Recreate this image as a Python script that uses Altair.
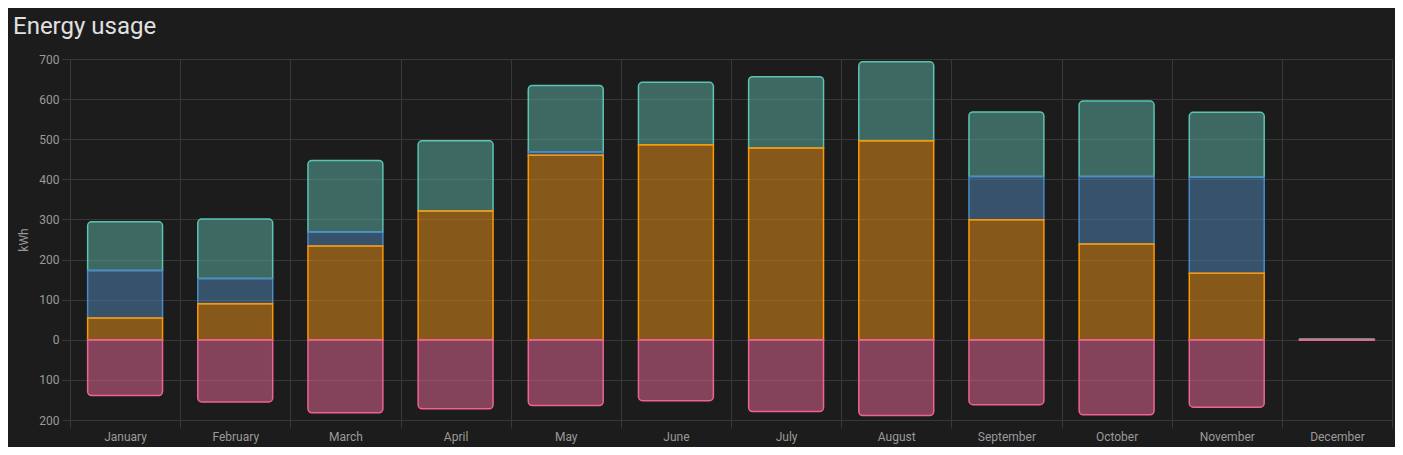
import altair as alt
import pandas as pd

months = ["January", "February", "March", "April", "May", "June", "July",
          "August", "September", "October", "November", "December"]
solar = [54, 90, 234, 321, 460, 486, 478, 496, 299, 239, 166, 0]
grid = [119, 63, 35, 0, 9, 0, 0, 0, 108, 168, 239, 0]
battery = [121, 148, 178, 175, 165, 156, 178, 197, 161, 188, 162, 2]
charge = [-139, -155, -182, -172, -164, -152, -179, -189, -162, -187, -168, -1]

series_names = ["Solar", "Grid", "Battery", "Charge"]
stroke_colors = ["#ff9800", "#4a8cc8", "#5cc4b2", "#f06292"]
fill_colors = ["#f0961a", "#5288ba", "#60b6aa", "#ec6a98"]
y_ticks = [-200, -100, 0, 100, 200, 300, 400, 500, 600, 700]

rows = []
for i, m in enumerate(months):
    base = 0
    for name, vals in (("Solar", solar), ("Grid", grid), ("Battery", battery)):
        v = vals[i]
        if v != 0:
            rows.append(dict(month=m, series=name, y0=base, y1=base + v))
        base += v
    if charge[i] != 0:
        rows.append(dict(month=m, series="Charge", y0=0, y1=charge[i]))
df = pd.DataFrame(rows)

grid_color = "#383838"
label_color = "#9a9a9a"
FONT = "Roboto"

x_enc = alt.X(
    "month:N", sort=months,
    scale=alt.Scale(paddingInner=0, paddingOuter=0),
    axis=alt.Axis(title=None, labelAngle=0, tickBand="extent", grid=True,
                  gridColor=grid_color, tickColor=grid_color, tickSize=8,
                  domain=False, labelColor=label_color, labelFontSize=12,
                  labelFont=FONT, labelPadding=3),
)
y_enc = alt.Y(
    "y1:Q",
    scale=alt.Scale(domain=[-200, 700], nice=False, zero=False),
    axis=alt.Axis(values=y_ticks, labelExpr="abs(datum.value)", title="kWh",
                  titleColor=label_color, titleFontSize=12, titleFont=FONT,
                  titleFontWeight="normal", titlePadding=8,
                  gridColor=grid_color, tickColor=grid_color, tickSize=8,
                  domain=False, labelColor=label_color, labelFontSize=12,
                  labelFont=FONT, labelPadding=3),
)
fill_enc = alt.Fill("series:N", scale=alt.Scale(domain=series_names, range=fill_colors), legend=None)
stroke_enc = alt.Stroke("series:N", scale=alt.Scale(domain=series_names, range=stroke_colors), legend=None)

base = alt.Chart(df).encode(x=x_enc, y=y_enc, y2="y0:Q", fill=fill_enc, stroke=stroke_enc)
bw = alt.RelativeBandSize(0.68)

top = base.transform_filter(alt.datum.series == "Battery").mark_bar(
    width=bw, fillOpacity=0.5, strokeWidth=1.5, cornerRadiusTopLeft=4, cornerRadiusTopRight=4)
mid = base.transform_filter(alt.datum.series == "Grid").mark_bar(
    width=bw, fillOpacity=0.5, strokeWidth=1.5)
low = base.transform_filter(alt.datum.series == "Solar").mark_bar(
    width=bw, fillOpacity=0.5, strokeWidth=1.5)
neg = base.transform_filter(alt.datum.series == "Charge").mark_bar(
    width=bw, fillOpacity=0.5, strokeWidth=1.5, cornerRadiusBottomLeft=4, cornerRadiusBottomRight=4)

chart = alt.layer(top, mid, low, neg).properties(
    width=1322, height=361,
    title=alt.TitleParams("Energy usage", anchor="start", frame="group", dx=-57,
                          offset=14, fontSize=24, font=FONT, fontWeight="normal",
                          color="#e1e1e1"),
    autosize=alt.AutoSizeParams(type="none"),
    padding={"left": 62, "top": 51, "right": 3, "bottom": 27},
).configure(background="#1c1c1c").configure_view(stroke=None)

chart.save("out.html", embed_options={"renderer": "svg", "actions": False})
